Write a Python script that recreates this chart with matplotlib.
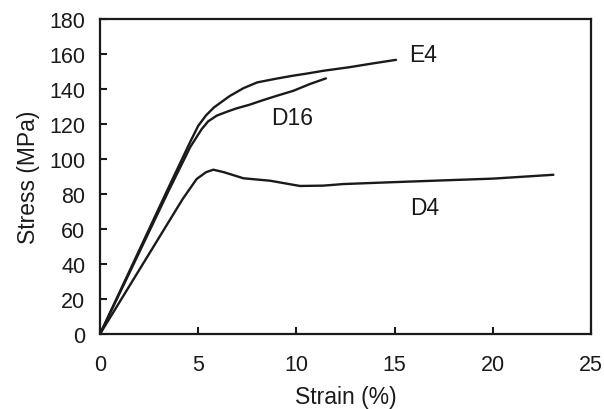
import matplotlib
matplotlib.use("Agg")
import matplotlib.pyplot as plt

# Data
e4_strain = [0, 1.5, 3.5, 4.6, 5.0, 5.4, 5.8, 6.6, 7.3, 8.0, 9.0, 9.8, 10.5, 11.4, 12.7, 13.8, 15.07]
e4_stress = [0, 36, 84, 110, 119, 125, 129.5, 136, 140.5, 143.8, 146, 147.6, 148.8, 150.5, 152.5, 154.5, 156.7]

d16_strain = [0, 1.5, 3.5, 4.6, 5.17, 5.5, 5.94, 6.5, 6.96, 7.6, 8.31, 9.1, 9.84, 10.69, 11.5]
d16_stress = [0, 35, 82, 107, 117, 121.5, 124.8, 127.2, 129, 131, 133.7, 136.5, 139, 142.9, 146.1]

d4_strain = [0, 1.5, 3.0, 4.2, 4.92, 5.4, 5.77, 6.3, 7.3, 8.66, 10.18, 11.37, 12.39, 14.5, 16.97, 20.0, 23.08]
d4_stress = [0, 27.5, 55, 77, 88.6, 92.5, 93.9, 92.5, 89, 87.6, 84.6, 84.8, 85.7, 86.6, 87.6, 88.8, 91]

labels = ["E4", "D16", "D4"]
label_pos = [(16.45, 160), (9.76, 124), (16.55, 72.5)]

x_ticks = [0, 5, 10, 15, 20, 25]
y_ticks = [0, 20, 40, 60, 80, 100, 120, 140, 160, 180]

plt.rcParams['font.family'] = ['Liberation Sans', 'DejaVu Sans']
fig = plt.figure(figsize=(6.04, 4.10), dpi=100)
ax = fig.add_axes([0.1656, 0.183, 0.813, 0.768])

col = "#1a1a1a"
for xs, ys in [(e4_strain, e4_stress), (d16_strain, d16_stress), (d4_strain, d4_stress)]:
    ax.plot(xs, ys, color=col, lw=1.7, solid_joinstyle='round', solid_capstyle='round')

for t, (x, y) in zip(labels, label_pos):
    ax.text(x, y, t, fontsize=16.5, ha='center', va='center', color=col)

ax.set_xlim(0, 25)
ax.set_ylim(0, 180)
ax.set_xticks(x_ticks)
ax.set_yticks(y_ticks)
ax.tick_params(direction='in', length=5, width=1.5, labelsize=15.5, colors=col,
               top=False, right=False)
ax.tick_params(axis='x', pad=14.5)
ax.tick_params(axis='y', pad=10.5)
for s in ax.spines.values():
    s.set_linewidth(1.6)
    s.set_color(col)
ax.set_xlabel("Strain (%)", fontsize=16.5, color=col, labelpad=7)
ax.set_ylabel("Stress (MPa)", fontsize=16.5, color=col, labelpad=7)

fig.savefig("out.png", dpi=100)
